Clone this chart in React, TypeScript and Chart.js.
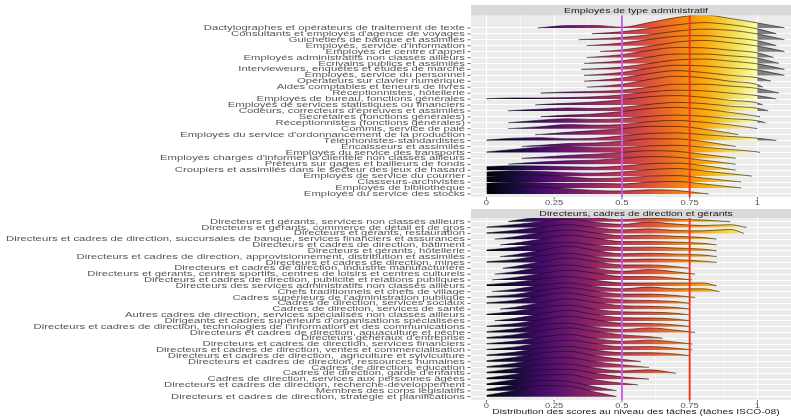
import React, { useEffect, useRef } from "react";
import { Chart, registerables } from "chart.js";
Chart.register(...registerables);

// ---------- data ----------
const GRID_X = [0, 0.1, 0.2, 0.3, 0.4, 0.5, 0.6, 0.7, 0.8, 0.9, 1.0, 1.1];
const X_TICKS = [0, 0.25, 0.5, 0.75, 1];
const X_TICK_LABELS = ["0", "0.25", "0.5", "0.75", "1"];
const X_GRID = [0, 0.125, 0.25, 0.375, 0.5, 0.625, 0.75, 0.875, 1];
const REF_LINES = [0.5, 0.75];
const REF_COLORS = ["#c45ee8", "#f4301f"];
const X_TITLE = "Distribution des scores au niveau des tâches (tâches ISCO-08)";

const adminTitle = "Employés de type administratif";
const adminLabels = [
  "Dactylographes et opérateurs de traitement de texte",
  "Consultants et employés d'agence de voyages",
  "Guichetiers de banque et assimilés",
  "Employés, service d'information",
  "Employés de centre d'appel",
  "Employés administratifs non classés ailleurs",
  "Ecrivains publics et assimilés",
  "Intervieweurs, enquêtes et études de marché",
  "Employés, service du personnel",
  "Opérateurs sur clavier numérique",
  "Aides comptables et teneurs de livres",
  "Réceptionnistes, hôtellerie",
  "Employés de bureau, fonctions générales",
  "Employés de services statistiques ou financiers",
  "Codeurs, correcteurs d'épreuves et assimilés",
  "Secrétaires (fonctions générales)",
  "Réceptionnistes (fonctions générales)",
  "Commis, service de paie",
  "Employés du service d'ordonnancement de la production",
  "Téléphonistes-standardistes",
  "Encaisseurs et assimilés",
  "Employés du service des transports",
  "Employés chargés d'informer la clientèle non classés ailleurs",
  "Prêteurs sur gages et bailleurs de fonds",
  "Croupiers et assimilés dans le secteur des jeux de hasard",
  "Employés de service du courrier",
  "Classeurs-archivistes",
  "Employés de bibliothèque",
  "Employés du service des stocks",
];
const adminStart = [0.19, 0.39, 0.34, 0.37, 0.42, 0.37, 0.36, 0.35, 0.36, 0.36, 0.37, 0.2, 0, 0.18, 0.08, 0.2, 0.08, 0.08, 0.18, 0, 0.13, 0, 0.13, 0.08, 0, 0, 0, 0, 0];
const adminEnd = [1.1, 1.07, 1.1, 1.07, 1.1, 1.06, 1.08, 1.1, 1.1, 1.05, 1.02, 1.08, 1.07, 1.02, 1.04, 1.01, 1.03, 1.0, 0.93, 1.07, 0.92, 1.01, 0.92, 0.92, 0.92, 0.98, 0.94, 0.94, 0.82];
const adminDensity = [
  [0, 0, 0.05, 0.4, 0.42, 0.12, 0.9, 1.75, 2.2, 1.6, 0.85, 0],
  [0, 0, 0, 0, 0.05, 0.35, 0.9, 1.5, 1.9, 1.55, 0.85, 0],
  [0, 0, 0, 0, 0.12, 0.4, 0.85, 1.45, 1.8, 1.6, 1.0, 0],
  [0, 0, 0, 0, 0.1, 0.45, 1.05, 1.6, 1.7, 1.35, 0.85, 0],
  [0, 0, 0, 0, 0, 0.3, 0.9, 1.6, 1.9, 1.5, 0.95, 0],
  [0, 0, 0, 0, 0.1, 0.5, 1.2, 1.7, 1.65, 1.25, 0.8, 0],
  [0, 0, 0, 0, 0.12, 0.45, 1.1, 1.6, 1.6, 1.3, 0.9, 0],
  [0, 0, 0, 0, 0.1, 0.4, 1.0, 1.6, 1.75, 1.4, 0.95, 0],
  [0, 0, 0, 0, 0.1, 0.5, 1.2, 1.7, 1.6, 1.25, 0.9, 0],
  [0, 0, 0, 0, 0.12, 0.55, 1.3, 1.8, 1.5, 1.0, 0.6, 0],
  [0, 0, 0, 0, 0.1, 0.5, 1.3, 1.85, 1.6, 1.0, 0.45, 0],
  [0, 0, 0, 0.2, 0.3, 0.5, 1.0, 1.5, 1.5, 1.2, 0.8, 0],
  [0.05, 0.2, 0.18, 0.25, 0.4, 0.7, 1.2, 1.5, 1.4, 1.0, 0.6, 0],
  [0, 0, 0.08, 0.3, 0.5, 0.9, 1.4, 1.6, 1.3, 0.8, 0.35, 0],
  [0, 0.08, 0.3, 0.5, 0.4, 0.6, 1.1, 1.45, 1.25, 0.8, 0.45, 0],
  [0, 0, 0, 0.3, 0.5, 0.9, 1.4, 1.6, 1.3, 0.75, 0.1, 0],
  [0, 0.08, 0.45, 0.7, 0.55, 0.7, 1.1, 1.3, 1.1, 0.7, 0.35, 0],
  [0, 0.06, 0.35, 0.7, 0.6, 0.7, 1.2, 1.4, 1.1, 0.65, 0, 0],
  [0, 0, 0.05, 0.4, 0.7, 1.0, 1.4, 1.4, 0.95, 0.25, 0, 0],
  [0.1, 0.4, 0.5, 0.3, 0.4, 0.8, 1.2, 1.3, 1.0, 0.7, 0.4, 0],
  [0, 0, 0.2, 0.5, 0.6, 0.9, 1.3, 1.3, 0.85, 0.15, 0, 0],
  [0.1, 0.5, 0.9, 1.0, 0.8, 0.8, 1.1, 1.2, 0.9, 0.5, 0.1, 0],
  [0, 0, 0.2, 0.5, 0.7, 1.0, 1.3, 1.2, 0.7, 0.15, 0, 0],
  [0, 0.1, 0.4, 0.6, 0.7, 1.0, 1.3, 1.2, 0.7, 0.15, 0, 0],
  [0.6, 0.75, 0.7, 0.6, 0.5, 0.7, 1.1, 1.2, 0.8, 0.15, 0, 0],
  [0.7, 0.9, 0.8, 0.6, 0.5, 0.7, 1.1, 1.3, 0.9, 0.4, 0, 0],
  [0.9, 1.3, 1.2, 0.9, 0.6, 0.7, 1.0, 1.1, 0.7, 0.2, 0, 0],
  [0.8, 1.0, 0.9, 0.8, 0.8, 0.7, 1.0, 1.1, 0.7, 0.2, 0, 0],
  [1.0, 1.3, 1.2, 0.9, 0.6, 0.5, 0.7, 0.6, 0.1, 0, 0, 0],
];

const mgrTitle = "Directeurs, cadres de direction et gérants";
const mgrLabels = [
  "Directeurs et gérants, services non classés ailleurs",
  "Directeurs et gérants, commerce de détail et de gros",
  "Directeurs et gérants, restauration",
  "Directeurs et cadres de direction, succursales de banque, services financiers et assurances",
  "Directeurs et cadres de direction, bâtiment",
  "Directeurs et gérants, hôtellerie",
  "Directeurs et cadres de direction, approvisionnement, distribution et assimilés",
  "Directeurs et cadres de direction, mines",
  "Directeurs et cadres de direction, industrie manufacturière",
  "Directeurs et gérants, centres sportifs, centres de loisirs et centres culturels",
  "Directeurs et cadres de direction, publicité et relations publiques",
  "Directeurs des services administratifs non classés ailleurs",
  "Chefs traditionnels et chefs de village",
  "Cadres supérieurs de l'administration publique",
  "Cadres de direction, services sociaux",
  "Cadres de direction, services de santé",
  "Autres cadres de direction, services spécialisés non classés ailleurs",
  "Dirigeants et cadres supérieurs d'organisations spécialisées",
  "Directeurs et cadres de direction, technologies de l'information et des communications",
  "Directeurs et cadres de direction, aquaculture et pêche",
  "Directeurs généraux d'entreprise",
  "Directeurs et cadres de direction, services financiers",
  "Directeurs et cadres de direction, ventes et commercialisation",
  "Directeurs et cadres de direction,  agriculture et sylviculture",
  "Directeurs et cadres de direction, ressources humaines",
  "Cadres de direction, éducation",
  "Cadres de direction, garde d'enfants",
  "Cadres de direction, services aux personnes âgées",
  "Directeurs et cadres de direction, recherche-développement",
  "Membres des corps législatifs",
  "Directeurs et cadres de direction, stratégie et planifications",
];
const mgrStart = [0.08, 0, 0, 0.03, 0.05, 0, 0.05, 0, 0.06, 0.03, 0.02, 0, 0.02, 0, 0, 0.05, 0, 0.03, 0, 0, 0, 0, 0, 0, 0, 0, 0, 0, 0, 0, 0];
const mgrEnd = [0.9, 0.96, 0.95, 0.85, 0.85, 0.85, 0.85, 0.85, 0.75, 0.77, 0.76, 0.85, 0.86, 0.77, 0.75, 0.75, 0.75, 0.75, 0.75, 0.77, 0.65, 0.76, 0.76, 0.75, 0.57, 0.6, 0.7, 0.6, 0.56, 0.48, 0.48];
const mgrDensity = [
  [0, 0.2, 0.8, 1.1, 0.7, 0.35, 0.6, 0.45, 0.3, 0.05],
  [0.1, 0.5, 1.0, 1.45, 0.9, 0.55, 0.95, 0.6, 0.35, 0.5],
  [0.1, 0.5, 1.1, 1.5, 1.0, 0.6, 0.8, 0.5, 0.45, 0.7],
  [0, 0.4, 1.1, 1.6, 1.1, 0.6, 0.7, 0.5, 0.3],
  [0, 0.3, 1.0, 1.7, 1.2, 0.6, 0.6, 0.5, 0.3],
  [0.15, 0.6, 1.2, 1.5, 1.0, 0.6, 0.65, 0.5, 0.3],
  [0, 0.3, 1.1, 1.8, 1.1, 0.5, 0.6, 0.45, 0.3],
  [0.15, 0.5, 1.2, 1.6, 1.0, 0.5, 0.6, 0.5, 0.25],
  [0, 0.3, 1.1, 1.8, 1.2, 0.6, 0.6, 0.3],
  [0, 0.4, 1.2, 1.6, 1.0, 0.5, 0.8, 0.4],
  [0, 0.4, 1.1, 1.7, 1.2, 0.6, 0.6, 0.3],
  [0.2, 0.6, 1.2, 1.6, 1.0, 0.5, 0.5, 0.5, 0.5],
  [0, 0.4, 1.1, 1.5, 0.9, 0.5, 0.8, 0.5, 0.5],
  [0.15, 0.5, 1.2, 1.7, 1.1, 0.6, 0.6, 0.35],
  [0.1, 0.5, 1.3, 1.8, 1.1, 0.6, 0.5, 0.3],
  [0, 0.3, 1.1, 1.8, 1.2, 0.6, 0.5, 0.3],
  [0.15, 0.6, 1.3, 1.7, 1.0, 0.55, 0.5, 0.3],
  [0, 0.4, 1.2, 1.8, 1.1, 0.55, 0.5, 0.3],
  [0.1, 0.5, 1.2, 1.8, 1.2, 0.6, 0.55, 0.3],
  [0.15, 0.6, 1.3, 1.6, 0.9, 0.5, 0.8, 0.4],
  [0.15, 0.6, 1.3, 1.8, 1.2, 0.6, 0.3],
  [0.1, 0.5, 1.2, 1.7, 1.0, 0.5, 0.7, 0.35],
  [0.1, 0.5, 1.2, 1.7, 1.1, 0.55, 0.6, 0.3],
  [0.15, 0.6, 1.3, 1.6, 1.0, 0.55, 0.55, 0.3],
  [0.15, 0.7, 1.5, 1.8, 1.0, 0.4],
  [0.15, 0.7, 1.5, 1.7, 1.0, 0.45],
  [0.2, 0.8, 1.5, 1.6, 0.9, 0.4, 0.6],
  [0.2, 0.8, 1.6, 1.7, 1.0, 0.4],
  [0.2, 0.9, 1.7, 1.8, 0.9, 0.3],
  [0.25, 1.0, 1.8, 1.6, 0.7],
  [0.25, 1.0, 1.9, 1.8, 0.8],
];

// ---------- styling ----------
const INFERNO = ["#000004", "#160b39", "#420a68", "#6a176e", "#932667", "#bc3754", "#dd513a", "#f37819", "#fca50a", "#f6d746", "#fcffa4"];
const NA_GREY = "#7f7f7f";
const FONT = '"Liberation Sans", Arial, Helvetica, sans-serif';
const SQUISH = 0.72;
const W = 791;
const PANEL_LEFT = 471;
const TEXT_CENTER = 636;

function drawText(ctx: CanvasRenderingContext2D, s: string, x: number, y: number, align: CanvasTextAlign, size: number, color: string, sx: number) {
  ctx.save();
  ctx.translate(x, y);
  ctx.scale(sx, SQUISH);
  ctx.font = `${size}px ${FONT}`;
  ctx.fillStyle = color;
  ctx.textAlign = align;
  ctx.textBaseline = "middle";
  ctx.fillText(s, 0, 0);
  ctx.restore();
}

function gradientFor(chart: any) {
  if (chart.$ridgeGrad) return chart.$ridgeGrad;
  const xs = chart.scales.x;
  const p0 = xs.getPixelForValue(0);
  const p1 = xs.getPixelForValue(1.2);
  const g = chart.ctx.createLinearGradient(p0, 0, p1, 0);
  INFERNO.forEach((c, k) => g.addColorStop((k / 10) / 1.2, c));
  g.addColorStop(1 / 1.2 + 0.0005, NA_GREY);
  g.addColorStop(1, NA_GREY);
  chart.$ridgeGrad = g;
  return g;
}

type PanelCfg = {
  title: string;
  labels: string[];
  starts: number[];
  ends: number[];
  density: number[][];
  yMin: number;
  yMax: number;
  height: number;
  panelTop: number;
  panelBottom: number;
  stripTop: number;
  showXTitle: boolean;
};

function makeConfig(p: PanelCfg): any {
  const n = p.labels.length;
  const rows = p.labels.map((_, i) => n - 1 - i);
  const datasets = p.labels.map((lab, i) => {
    const base = n - 1 - i;
    const h = p.density[i];
    const s = p.starts[i];
    const e = p.ends[i];
    const pts: { x: number; y: number }[] = [{ x: s, y: base + (s <= 0 ? h[0] ?? 0 : 0.02) }];
    GRID_X.forEach((gx, k) => {
      if (gx > s + 1e-6 && gx < e - 1e-6) pts.push({ x: gx, y: base + (h[k] ?? 0) });
    });
    pts.push({ x: e, y: base + 0.02 });
    return {
      label: lab,
      data: pts,
      order: n - i,
      fill: { value: base },
      backgroundColor: (c: any) => (c.chart.chartArea ? gradientFor(c.chart) : "#888"),
      borderColor: "rgba(15,15,15,0.85)",
      borderWidth: 0.7,
      pointRadius: 0,
      cubicInterpolationMode: "monotone",
    };
  });

  const decor = {
    id: "ridgeDecor",
    beforeDraw(chart: any) {
      const { ctx, chartArea: a } = chart;
      ctx.save();
      ctx.fillStyle = "#ebebeb";
      ctx.fillRect(a.left, a.top, a.right - a.left, a.bottom - a.top);
      ctx.fillStyle = "#d9d9d9";
      ctx.fillRect(a.left, p.stripTop, a.right - a.left, a.top - p.stripTop);
      ctx.restore();
    },
    afterDatasetsDraw(chart: any) {
      const { ctx, chartArea: a, scales } = chart;
      ctx.save();
      REF_LINES.forEach((v, k) => {
        const x = scales.x.getPixelForValue(v);
        ctx.strokeStyle = REF_COLORS[k];
        ctx.lineWidth = 1.9;
        ctx.beginPath();
        ctx.moveTo(x, a.top);
        ctx.lineTo(x, a.bottom);
        ctx.stroke();
      });
      ctx.restore();
    },
    afterDraw(chart: any) {
      const { ctx, chartArea: a, scales } = chart;
      ctx.save();
      drawText(ctx, p.title, TEXT_CENTER, (p.stripTop + a.top) / 2 + 0.3, "center", 9.8, "#1a1a1a", 1.08);
      ctx.strokeStyle = "#444";
      ctx.lineWidth = 0.8;
      p.labels.forEach((lab, i) => {
        const y = scales.y.getPixelForValue(n - 1 - i);
        ctx.beginPath();
        ctx.moveTo(a.left - 3.5, y);
        ctx.lineTo(a.left - 0.5, y);
        ctx.stroke();
        drawText(ctx, lab, a.left - 6, y, "right", 10.3, "#555555", 1.1);
      });
      X_TICKS.forEach((v, k) => {
        const x = scales.x.getPixelForValue(v);
        ctx.beginPath();
        ctx.moveTo(x, a.bottom);
        ctx.lineTo(x, a.bottom + 2.5);
        ctx.stroke();
        drawText(ctx, X_TICK_LABELS[k], x, a.bottom + 6, "center", 9, "#555555", 1.05);
      });
      if (p.showXTitle) drawText(ctx, X_TITLE, TEXT_CENTER, a.bottom + 12.5, "center", 10, "#1a1a1a", 1.03);
      ctx.restore();
    },
  };

  return {
    type: "line",
    data: { datasets },
    options: {
      animation: false,
      responsive: false,
      devicePixelRatio: 1,
      layout: { padding: { top: p.panelTop, right: 0, bottom: 0, left: 0 } },
      plugins: { legend: { display: false }, tooltip: { enabled: false }, title: { display: false } },
      scales: {
        x: {
          type: "linear",
          min: -0.057,
          max: 1.124,
          afterBuildTicks: (sc: any) => {
            sc.ticks = X_GRID.map((v) => ({ value: v }));
          },
          afterFit: (sc: any) => {
            sc.height = p.height - p.panelBottom;
          },
          ticks: { display: false },
          grid: {
            color: "#ffffff",
            lineWidth: (c: any) => {
              const v = c.tick ? c.tick.value * 4 : 0;
              return Math.abs(v - Math.round(v)) < 1e-6 ? 1.1 : 0.55;
            },
            drawTicks: false,
          },
          border: { display: false },
        },
        y: {
          type: "linear",
          min: p.yMin,
          max: p.yMax,
          afterBuildTicks: (sc: any) => {
            sc.ticks = rows.map((v) => ({ value: v }));
          },
          afterFit: (sc: any) => {
            sc.width = PANEL_LEFT;
          },
          ticks: { display: false },
          grid: { color: "#ffffff", lineWidth: 1.1, drawTicks: false },
          border: { display: false },
        },
      },
    },
    plugins: [decor],
  };
}

const adminPanel: PanelCfg = {
  title: adminTitle,
  labels: adminLabels,
  starts: adminStart,
  ends: adminEnd,
  density: adminDensity,
  yMin: -0.51,
  yMax: 30.1,
  height: 205,
  panelTop: 15.5,
  panelBottom: 197,
  stripTop: 5,
  showXTitle: false,
};

const mgrPanel: PanelCfg = {
  title: mgrTitle,
  labels: mgrLabels,
  starts: mgrStart,
  ends: mgrEnd,
  density: mgrDensity,
  yMin: -0.57,
  yMax: 30.65,
  height: 212,
  panelTop: 13,
  panelBottom: 195,
  stripTop: 4,
  showXTitle: true,
};

function Panel({ cfg, top }: { cfg: PanelCfg; top: number }) {
  const ref = useRef<HTMLCanvasElement | null>(null);
  useEffect(() => {
    if (!ref.current) return;
    const chart = new Chart(ref.current, makeConfig(cfg));
    return () => chart.destroy();
  }, [cfg]);
  return (
    <canvas
      ref={ref}
      width={W}
      height={cfg.height}
      style={{ position: "absolute", left: 0, top, display: "block", width: W, height: cfg.height }}
    />
  );
}

export default function App() {
  return (
    <div style={{ position: "fixed", left: 0, top: 0, width: W, height: 417, background: "#ffffff", overflow: "hidden" }}>
      <Panel cfg={adminPanel} top={0} />
      <Panel cfg={mgrPanel} top={205} />
    </div>
  );
}
